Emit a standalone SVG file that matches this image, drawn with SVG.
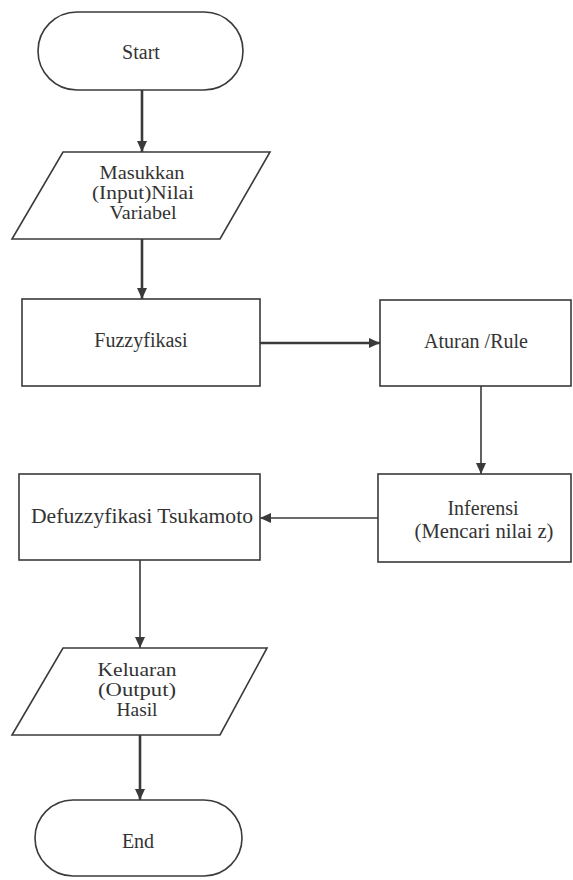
<svg xmlns="http://www.w3.org/2000/svg" width="573" height="880" viewBox="0 0 573 880">
  <style>
    .shape { fill: #ffffff; stroke: #3a3a3a; stroke-width: 1.6; }
    .label { font-family: "Liberation Serif", "Noto Serif", "DejaVu Serif", "Times New Roman", serif; font-size: 20px; fill: #333333; text-anchor: middle; }
    .label.small { font-size: 18px; }
    .link { fill: none; stroke: #3a3a3a; stroke-width: 1.6; }
    .link.bold { stroke-width: 2.6; }
  </style>
  <defs>
    <marker id="arrow" markerUnits="userSpaceOnUse" markerWidth="12" markerHeight="10" refX="11" refY="5" orient="auto">
      <path d="M0,0 L11,5 L0,10 Z" fill="#3a3a3a"/>
    </marker>
  </defs>
  <rect width="573" height="880" fill="#ffffff"/>

  <g id="connectors">
    <line class="link bold" x1="142" y1="90" x2="142" y2="152" marker-end="url(#arrow)"/>
    <line class="link bold" x1="142" y1="239" x2="142" y2="299" marker-end="url(#arrow)"/>
    <line class="link bold" x1="260" y1="343" x2="380" y2="343" marker-end="url(#arrow)"/>
    <line class="link" x1="481" y1="386" x2="481" y2="474" marker-end="url(#arrow)"/>
    <line class="link" x1="378" y1="518" x2="260" y2="518" marker-end="url(#arrow)"/>
    <line class="link" x1="140" y1="560" x2="140" y2="648" marker-end="url(#arrow)"/>
    <line class="link bold" x1="140" y1="735" x2="140" y2="800" marker-end="url(#arrow)"/>
  </g>

  <g id="start">
    <rect class="shape" x="38" y="12" width="205" height="78" rx="39" ry="39"/>
    <text class="label" x="141" y="59">Start</text>
  </g>

  <g id="input">
    <polygon class="shape" points="63,152 270,152 220,239 12,239"/>
    <text class="label small" x="142" y="179" textLength="85" lengthAdjust="spacingAndGlyphs">Masukkan</text>
    <text class="label small" x="143" y="199" textLength="102" lengthAdjust="spacingAndGlyphs">(Input)Nilai</text>
    <text class="label small" x="143" y="219" textLength="67" lengthAdjust="spacingAndGlyphs">Variabel</text>
  </g>

  <g id="fuzzyfikasi">
    <rect class="shape" x="22" y="299" width="238" height="87"/>
    <text class="label" x="141" y="347">Fuzzyfikasi</text>
  </g>

  <g id="aturan">
    <rect class="shape" x="380" y="300" width="191" height="86"/>
    <text class="label" x="476" y="348">Aturan /Rule</text>
  </g>

  <g id="inferensi">
    <rect class="shape" x="378" y="474" width="193" height="88"/>
    <text class="label" x="483" y="515">Inferensi</text>
    <text class="label" x="484" y="538" textLength="139" lengthAdjust="spacingAndGlyphs">(Mencari nilai z)</text>
  </g>

  <g id="defuzzyfikasi">
    <rect class="shape" x="19" y="474" width="241" height="86"/>
    <text class="label" x="142" y="523" textLength="222" lengthAdjust="spacingAndGlyphs">Defuzzyfikasi Tsukamoto</text>
  </g>

  <g id="output">
    <polygon class="shape" points="63,648 267,648 220,735 12,735"/>
    <text class="label small" x="137" y="676" textLength="79" lengthAdjust="spacingAndGlyphs">Keluaran</text>
    <text class="label small" x="137" y="696" textLength="78" lengthAdjust="spacingAndGlyphs">(Output)</text>
    <text class="label small" x="137" y="716" textLength="41" lengthAdjust="spacingAndGlyphs">Hasil</text>
  </g>

  <g id="end">
    <rect class="shape" x="35" y="800" width="207" height="76" rx="38" ry="38"/>
    <text class="label" x="138" y="848">End</text>
  </g>
</svg>
